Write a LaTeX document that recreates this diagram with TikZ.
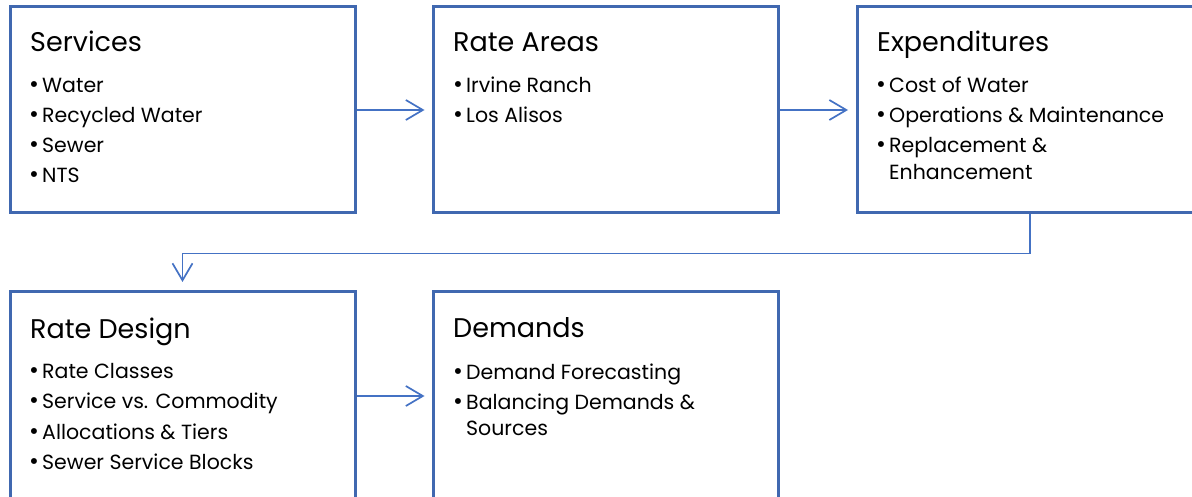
\documentclass[tikz,border=0pt]{standalone}
\usepackage{fontspec}
\setmainfont{Poppins}
\usetikzlibrary{arrows.meta}
\definecolor{boxblue}{RGB}{64,104,176}
\definecolor{linkblue}{RGB}{68,114,196}
\begin{document}
\begin{tikzpicture}[x=1pt,y=1pt,
  box/.style={draw=boxblue, line width=3pt, minimum width=345pt, minimum height=206pt, inner sep=0pt},
  tallbox/.style={box, minimum height=208pt},
  title/.style={anchor=base west, inner sep=0pt, font=\fontsize{27}{30}\selectfont},
  item/.style={anchor=base west, inner sep=0pt, font=\fontsize{20.5}{27}\selectfont},
  bul/.style={anchor=base west, inner sep=0pt, font=\fontsize{24}{26}\selectfont},
  link/.style={draw=linkblue, line width=1.7pt, -{Straight Barb[length=17pt,width=20pt]}, shorten >=7.5pt}]
\useasboundingbox (0,0) rectangle (1192,-497);
\clip (0,0) rectangle (1192,-497);
% boxes
\node[box] (services) at (182.5,-110) {};
\node[box] (rateareas) at (606,-110) {};
\node[box, minimum width=346pt] (expend) at (1030,-110) {};
\node[tallbox] (ratedesign) at (182.5,-396) {};
\node[tallbox] (demands) at (606,-396) {};
% Services
\node[title] (t1) at (30,-52) {Services};
\node[bul] (b11) at (29,-93) {•};
\node[item] (i11) at (42,-93) {Water};
\node[bul] (b12) at (29,-123) {•};
\node[item] (i12) at (42,-123) {Recycled Water};
\node[bul] (b13) at (29,-153) {•};
\node[item] (i13) at (42,-153) {Sewer};
\node[bul] (b14) at (29,-183) {•};
\node[item] (i14) at (42,-183) {NTS};
% Rate Areas
\node[title] (t2) at (453,-52) {Rate Areas};
\node[bul] (b21) at (453,-93) {•};
\node[item] (i21) at (466,-93) {Irvine Ranch};
\node[bul] (b22) at (453,-123) {•};
\node[item] (i22) at (466,-123) {Los Alisos};
% Expenditures
\node[title] (t3) at (877,-52) {Expenditures};
\node[bul] (b31) at (876,-93) {•};
\node[item] (i31) at (889,-93) {Cost of Water};
\node[bul] (b32) at (876,-123) {•};
\node[item] (i32) at (889,-123) {Operations \& Maintenance};
\node[bul] (b33) at (876,-153) {•};
\node[item] (i33) at (889,-153) {Replacement \&};
\node[item] (i34) at (889,-180) {Enhancement};
% Rate Design
\node[title] (t4) at (30,-338) {Rate Design};
\node[bul] (b41) at (29,-378) {•};
\node[item] (i41) at (42,-378) {Rate Classes};
\node[bul] (b42) at (29,-408) {•};
\node[item] (i42) at (42,-408) {Service vs. Commodity};
\node[bul] (b43) at (29,-439) {•};
\node[item] (i43) at (42,-439) {Allocations \& Tiers};
\node[bul] (b44) at (29,-469) {•};
\node[item] (i44) at (42,-469) {Sewer Service Blocks};
% Demands
\node[title] (t5) at (453,-337) {Demands};
\node[bul] (b51) at (453,-379) {•};
\node[item] (i51) at (466,-379) {Demand Forecasting};
\node[bul] (b52) at (453,-409) {•};
\node[item] (i52) at (466,-409) {Balancing Demands \&};
\node[item] (i53) at (466,-435) {Sources};
% connectors
\draw[link] (services.east) -- (rateareas.west);
\draw[link] (rateareas.east) -- (expend.west);
\draw[link] (ratedesign.east) -- (demands.west);
\draw[link, shorten >=8.5pt] (expend.south) -- ++(0,-39) -| (ratedesign.north);
\end{tikzpicture}
\end{document}
